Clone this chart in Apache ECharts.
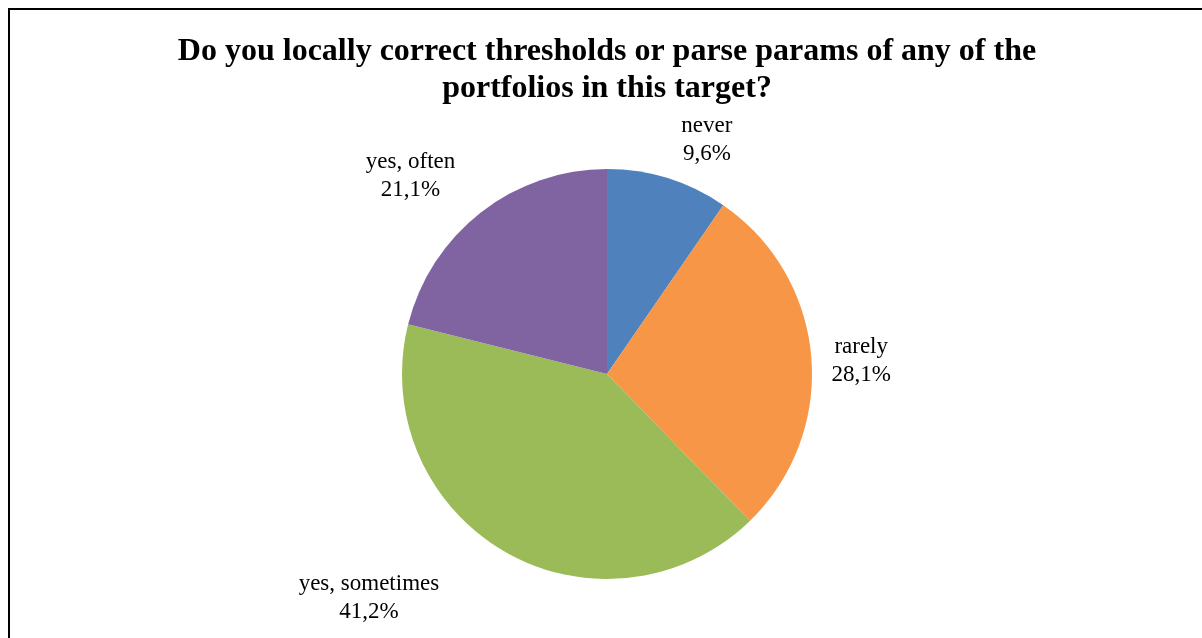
<!DOCTYPE html>
<html>
<head>
<meta charset="utf-8">
<script src="https://cdn.jsdelivr.net/npm/echarts@6/dist/echarts.min.js"></script>
<style>
  html, body { margin: 0; padding: 0; background: #fff; }
  #chart { width: 1202px; height: 638px; }
</style>
</head>
<body>
<div id="chart"></div>
<script>
const titleLines = ['Do you locally correct thresholds or parse params of any of the', 'portfolios in this target?'];
const categories = ['never', 'rarely', 'yes, sometimes', 'yes, often'];
const values = [9.6, 28.1, 41.2, 21.1];
const colors = ['#4F81BD', '#F79646', '#9BBB59', '#8064A2'];

// label nudges (style only), relative to the library's outside label anchor
const labelShift = [[28, -19], [25, 6], [-121, 29], [-53, -21]];

const chart = echarts.init(document.getElementById('chart'), null, { renderer: 'canvas' });

const option = {
  backgroundColor: '#fff',
  animation: false,
  title: {
    text: titleLines.join('\n'),
    left: 607,
    textAlign: 'center',
    top: 33,
    padding: 0,
    textStyle: {
      fontFamily: 'Liberation Serif',
      fontWeight: 'bold',
      fontSize: 32,
      lineHeight: 37,
      color: '#000'
    }
  },
  graphic: [{
    type: 'polyline',
    shape: { points: [[1260, 9], [9, 9], [9, 700]] },
    style: { stroke: '#000', lineWidth: 2, fill: null },
    silent: true
  }],
  series: [{
    type: 'pie',
    center: [607, 374],
    radius: 205,
    startAngle: 90,
    clockwise: true,
    avoidLabelOverlap: false,
    itemStyle: { borderWidth: 0 },
    label: {
      show: true,
      position: 'outside',
      alignTo: 'none',
      fontFamily: 'Liberation Serif',
      fontSize: 23,
      lineHeight: 28,
      color: '#000',
      distanceToLabelLine: 5,
      formatter: p => p.name + '\n' + p.value.toFixed(1).replace('.', ',') + '%'
    },
    labelLine: { show: false, length: 20, length2: 0 },
    labelLayout: function (params) {
      const s = labelShift[params.dataIndex];
      return { align: 'center', verticalAlign: 'middle', dx: s[0], dy: s[1] };
    },
    emphasis: { disabled: true },
    data: categories.map((c, i) => ({ name: c, value: values[i], itemStyle: { color: colors[i] } }))
  }]
};
chart.setOption(option);
</script>
</body>
</html>
